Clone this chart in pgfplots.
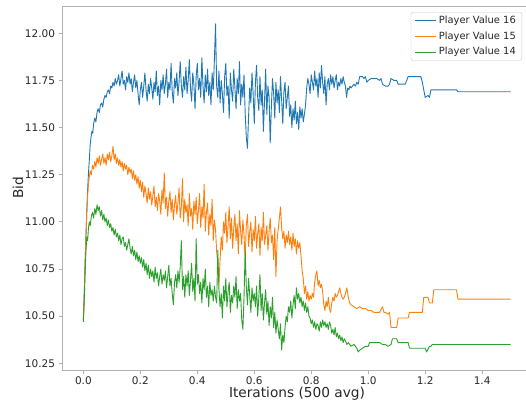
\documentclass[border=0pt]{standalone}
\usepackage{fontspec}
\setmainfont{DejaVu Sans}
\usepackage{pgfplots}
\pgfplotsset{compat=1.18}
\definecolor{tabblue}{RGB}{31,119,180}
\definecolor{taborange}{RGB}{255,127,14}
\definecolor{tabgreen}{RGB}{44,160,44}
\definecolor{spine}{RGB}{176,176,176}
\definecolor{txt}{RGB}{38,38,38}

\begin{document}
\begin{tikzpicture}
\useasboundingbox (-62pt,-32pt) rectangle (464pt,370pt);
\begin{axis}[
  at={(0pt,0pt)}, anchor=south west,
  scale only axis, width=470pt, height=364pt,
  xmin=-0.075, xmax=1.575, ymin=10.2145, ymax=12.1446,
  axis line style={spine, line width=0.8pt},
  tick style={spine, line width=0.8pt},
  tick align=outside, tick pos=left, major tick length=3.5pt,
  xtick={0,0.2,0.4,0.6,0.8,1.0,1.2,1.4},
  ytick={10.25,10.5,10.75,11,11.25,11.5,11.75,12},
  scaled x ticks=false, scaled y ticks=false,
  /pgf/number format/assume math mode=true,
  ticklabel style={font=\fontsize{10.5}{12}\selectfont, text=txt},
  xticklabel style={/pgf/number format/fixed, /pgf/number format/precision=1, /pgf/number format/fixed zerofill},
  yticklabel style={/pgf/number format/fixed, /pgf/number format/precision=2, /pgf/number format/fixed zerofill},
  xlabel={Iterations (500 avg)},
  xlabel style={font=\fontsize{13.7}{16}\selectfont, text=txt, at={(axis description cs:0.5,0)}, anchor=center, yshift=-24pt},
  ylabel={Bid},
  ylabel style={font=\fontsize{13.7}{16}\selectfont, text=txt, at={(axis description cs:-0.0936,0.5)}, anchor=center},
  legend style={at={(0.9787,0.9835)}, anchor=north east, draw=spine!70, rounded corners=2pt, fill=white,
    font=\fontsize{9.9}{11.5}\selectfont, text=txt, row sep=2.6pt, inner xsep=4pt, inner ysep=2pt},
  legend cell align=left,
  legend image code/.code={\draw[#1, line width=0.9pt] (0pt,0pt) -- (21pt,0pt);},
  every axis plot/.append style={line width=0.9pt, line join=round},
]
\addplot[tabblue] coordinates {
(0,10.48)(0.003,10.62)(0.006,10.78)(0.009,10.92)(0.012,11.05)(0.015,11.17)(0.018,11.26)(0.021,11.33)(0.024,11.41)(0.027,11.45)(0.030,11.48)(0.033,11.47)(0.036,11.52)(0.040,11.55)(0.044,11.53)(0.048,11.58)(0.052,11.60)(0.056,11.58)(0.060,11.62)(0.064,11.63)(0.068,11.61)(0.072,11.65)(0.076,11.67)(0.080,11.66)(0.084,11.69)(0.088,11.70)(0.092,11.68)(0.096,11.72)(0.100,11.71)(0.104,11.74)(0.108,11.72)(0.112,11.76)(0.116,11.73)(0.120,11.75)
(0.124,11.78)(0.128,11.72)(0.132,11.76)(0.136,11.80)(0.140,11.73)(0.144,11.75)(0.148,11.70)(0.152,11.77)(0.156,11.74)(0.160,11.79)
(0.164,11.73)(0.168,11.76)(0.172,11.69)(0.176,11.74)(0.180,11.78)(0.184,11.71)(0.188,11.75)(0.192,11.68)(0.196,11.62)(0.200,11.70)
(0.204,11.74)(0.208,11.66)(0.212,11.72)(0.216,11.79)(0.220,11.70)(0.224,11.64)(0.228,11.73)(0.232,11.68)(0.236,11.76)(0.240,11.71)
(0.244,11.65)(0.248,11.74)(0.252,11.69)(0.256,11.80)(0.260,11.67)(0.264,11.72)(0.268,11.62)(0.272,11.75)(0.276,11.70)(0.280,11.78)
(0.284,11.68)(0.288,11.73)(0.292,11.81)(0.296,11.66)(0.300,11.74)(0.304,11.70)(0.308,11.84)(0.312,11.69)(0.316,11.63)(0.320,11.76)
(0.324,11.71)(0.328,11.79)(0.332,11.67)(0.336,11.74)(0.340,11.85)(0.344,11.72)(0.348,11.66)(0.352,11.77)(0.356,11.70)(0.360,11.82)
(0.364,11.68)(0.368,11.75)(0.372,11.86)(0.376,11.71)(0.380,11.64)(0.384,11.79)(0.388,11.73)(0.392,11.60)(0.396,11.77)(0.400,11.84)
(0.404,11.70)(0.408,11.76)(0.412,11.66)(0.416,11.87)(0.420,11.72)(0.424,11.63)(0.428,11.78)(0.432,11.69)(0.436,11.81)(0.440,11.67)
(0.444,11.74)(0.448,11.62)(0.452,11.79)(0.456,11.70)(0.460,11.86)(0.464,12.05)(0.468,11.72)(0.472,11.66)(0.476,11.80)(0.480,11.63)
(0.484,11.75)(0.488,11.68)(0.492,11.58)(0.496,11.77)(0.500,11.84)(0.504,11.67)(0.508,11.72)(0.512,11.55)(0.516,11.79)(0.520,11.70)
(0.524,11.64)(0.528,11.81)(0.532,11.71)(0.536,11.60)(0.540,11.76)(0.544,11.68)(0.548,11.85)(0.552,11.62)(0.556,11.73)(0.560,11.66)
(0.564,11.78)(0.568,11.58)(0.572,11.45)(0.576,11.39)(0.580,11.56)(0.584,11.71)(0.588,11.63)(0.592,11.79)(0.596,11.68)(0.600,11.52)
(0.604,11.74)(0.608,11.83)(0.612,11.66)(0.616,11.59)(0.620,11.77)(0.624,11.62)(0.628,11.70)(0.632,11.48)(0.636,11.64)(0.640,11.81)
(0.644,11.57)(0.648,11.72)(0.652,11.66)(0.656,11.42)(0.660,11.61)(0.664,11.76)(0.668,11.68)(0.672,11.55)(0.676,11.74)(0.680,11.63)
(0.684,11.70)(0.688,11.58)(0.692,11.77)(0.696,11.65)(0.700,11.52)(0.704,11.69)(0.708,11.74)(0.712,11.60)(0.716,11.66)(0.720,11.72)
(0.724,11.56)(0.728,11.62)(0.732,11.50)(0.736,11.60)(0.740,11.54)(0.744,11.64)(0.748,11.52)(0.752,11.58)(0.756,11.49)(0.760,11.61)
(0.764,11.55)(0.768,11.60)(0.772,11.53)(0.776,11.57)(0.780,11.62)(0.784,11.71)(0.788,11.76)(0.792,11.73)(0.796,11.68)(0.800,11.78)
(0.804,11.74)(0.808,11.70)(0.812,11.80)(0.816,11.72)(0.820,11.76)(0.824,11.66)(0.828,11.79)(0.832,11.71)(0.836,11.83)(0.840,11.74)
(0.844,11.68)(0.848,11.77)(0.852,11.62)(0.856,11.73)(0.860,11.76)(0.864,11.70)(0.868,11.78)(0.872,11.73)(0.876,11.77)(0.880,11.71)
(0.884,11.75)(0.888,11.78)(0.892,11.70)(0.896,11.74)(0.900,11.72)(0.904,11.76)(0.908,11.73)(0.912,11.77)(0.916,11.74)(0.920,11.72)
(0.924,11.66)(0.928,11.71)(0.932,11.70)(0.936,11.72)(0.940,11.71)(0.950,11.73)(0.955,11.72)(0.960,11.74)(0.965,11.73)(0.970,11.77)
(0.980,11.77)(0.985,11.76)(0.990,11.77)(0.995,11.74)(1.000,11.75)(1.010,11.76)(1.020,11.76)(1.030,11.76)(1.040,11.75)(1.045,11.76)
(1.050,11.73)(1.060,11.72)(1.070,11.72)(1.075,11.73)(1.080,11.76)(1.090,11.75)(1.100,11.75)(1.105,11.73)(1.110,11.73)(1.120,11.73)
(1.130,11.73)(1.140,11.77)(1.150,11.77)(1.160,11.77)(1.170,11.77)(1.185,11.77)(1.190,11.74)(1.195,11.70)(1.200,11.66)(1.210,11.67)
(1.215,11.66)(1.220,11.70)(1.230,11.70)(1.250,11.70)(1.270,11.70)(1.290,11.70)(1.310,11.70)(1.315,11.69)(1.400,11.69)(1.500,11.69)
};
\addlegendentry{Player Value 16}
\addplot[taborange] coordinates {
(0,10.48)(0.003,10.60)(0.006,10.78)(0.009,10.92)(0.012,11.05)(0.015,11.14)(0.018,11.20)(0.021,11.24)(0.024,11.27)(0.028,11.25)(0.032,11.30)(0.036,11.28)(0.040,11.32)(0.044,11.29)(0.048,11.34)(0.052,11.31)(0.056,11.35)(0.060,11.30)(0.064,11.33)(0.068,11.36)(0.072,11.31)(0.076,11.34)(0.080,11.30)(0.084,11.36)(0.088,11.33)(0.092,11.37)(0.096,11.32)(0.100,11.35)(0.104,11.40)(0.108,11.33)(0.112,11.36)(0.116,11.31)(0.120,11.34)
(0.124,11.30)(0.128,11.33)(0.132,11.29)(0.136,11.32)(0.140,11.27)(0.144,11.31)(0.148,11.28)(0.152,11.30)(0.156,11.25)(0.160,11.29)
(0.164,11.26)(0.168,11.28)(0.172,11.23)(0.176,11.27)(0.180,11.22)(0.184,11.25)(0.188,11.20)(0.192,11.24)(0.196,11.18)(0.200,11.22)
(0.204,11.16)(0.208,11.21)(0.212,11.13)(0.216,11.19)(0.220,11.15)(0.224,11.10)(0.228,11.18)(0.232,11.12)(0.236,11.16)(0.240,11.09)
(0.244,11.14)(0.248,11.19)(0.252,11.08)(0.256,11.13)(0.260,11.06)(0.264,11.15)(0.268,11.11)(0.272,11.04)(0.276,11.17)(0.280,11.10)
(0.284,11.26)(0.288,11.07)(0.292,11.13)(0.296,11.03)(0.300,11.11)(0.304,11.16)(0.308,11.05)(0.312,11.12)(0.316,11.01)(0.320,11.09)
(0.324,11.14)(0.328,11.04)(0.332,11.10)(0.336,11.18)(0.340,11.02)(0.344,11.08)(0.348,11.23)(0.352,11.00)(0.356,11.12)(0.360,11.05)
(0.364,11.09)(0.368,10.98)(0.372,11.15)(0.376,11.03)(0.380,11.07)(0.384,10.96)(0.388,11.11)(0.392,11.04)(0.396,11.13)(0.400,10.99)
(0.404,11.06)(0.408,11.15)(0.412,10.97)(0.416,11.08)(0.420,11.02)(0.424,11.20)(0.428,10.95)(0.432,11.05)(0.436,11.10)(0.440,10.93)
(0.444,11.04)(0.448,10.98)(0.452,11.12)(0.456,10.90)(0.460,11.01)(0.464,10.96)(0.468,10.84)(0.472,10.78)(0.476,10.67)(0.480,10.80)
(0.484,10.92)(0.488,10.85)(0.492,11.00)(0.496,10.94)(0.500,11.05)(0.504,10.89)(0.508,10.98)(0.512,11.08)(0.516,10.91)(0.520,11.02)
(0.524,10.86)(0.528,10.97)(0.532,11.04)(0.536,10.90)(0.540,10.99)(0.544,10.83)(0.548,11.06)(0.552,10.95)(0.556,10.88)(0.560,11.01)
(0.564,10.93)(0.568,10.80)(0.572,10.98)(0.576,11.04)(0.580,10.87)(0.584,10.95)(0.588,11.00)(0.592,10.84)(0.596,10.96)(0.600,10.90)
(0.604,11.03)(0.608,10.86)(0.612,10.94)(0.616,10.99)(0.620,10.82)(0.624,10.97)(0.628,10.90)(0.632,11.05)(0.636,10.88)(0.640,10.93)
(0.644,10.98)(0.648,10.85)(0.652,10.95)(0.656,11.02)(0.660,10.89)(0.664,10.93)(0.668,10.80)(0.672,10.97)(0.676,10.71)(0.680,10.90)
(0.684,10.96)(0.688,11.02)(0.692,11.08)(0.696,10.97)(0.700,10.91)(0.704,10.95)(0.708,10.86)(0.712,10.93)(0.716,10.89)(0.720,10.95)
(0.724,10.88)(0.728,10.92)(0.732,10.85)(0.736,10.94)(0.740,10.87)(0.744,10.91)(0.748,10.83)(0.752,10.90)(0.756,10.86)(0.760,10.89)
(0.764,10.82)(0.768,10.74)(0.772,10.70)(0.776,10.62)(0.780,10.66)(0.784,10.59)(0.788,10.63)(0.792,10.58)(0.796,10.61)(0.800,10.59)
(0.804,10.62)(0.808,10.60)(0.812,10.68)(0.816,10.72)(0.820,10.74)(0.824,10.66)(0.828,10.69)(0.832,10.65)(0.836,10.67)(0.840,10.63)
(0.844,10.56)(0.848,10.53)(0.852,10.58)(0.856,10.55)(0.860,10.60)(0.864,10.54)(0.868,10.52)(0.872,10.57)(0.876,10.60)(0.880,10.58)
(0.884,10.62)(0.888,10.60)(0.892,10.61)(0.896,10.63)(0.900,10.65)(0.904,10.62)(0.908,10.60)(0.912,10.59)(0.916,10.60)(0.920,10.62)
(0.925,10.65)(0.930,10.60)(0.935,10.57)(0.940,10.56)(0.950,10.55)(0.960,10.54)(0.970,10.55)(0.980,10.54)(0.990,10.54)(1.000,10.53)
(1.010,10.53)(1.020,10.52)(1.030,10.52)(1.040,10.52)(1.050,10.55)(1.055,10.52)(1.060,10.52)(1.070,10.51)(1.075,10.52)(1.080,10.44)
(1.100,10.44)(1.105,10.49)(1.120,10.49)(1.140,10.49)(1.145,10.52)(1.190,10.52)(1.195,10.60)(1.210,10.60)(1.215,10.57)(1.225,10.57)
(1.230,10.64)(1.310,10.64)(1.315,10.59)(1.400,10.59)(1.500,10.59)
};
\addlegendentry{Player Value 15}
\addplot[tabgreen] coordinates {
(0,10.47)(0.003,10.58)(0.006,10.72)(0.009,10.84)(0.012,10.92)(0.015,10.90)(0.018,10.97)(0.021,11.00)(0.024,10.98)(0.028,11.03)(0.032,11.05)(0.036,11.02)(0.040,11.07)(0.044,11.04)(0.048,11.09)(0.052,11.06)(0.056,11.08)(0.060,11.03)(0.064,11.06)(0.068,11.01)(0.072,11.04)(0.076,11.00)(0.080,11.02)(0.084,10.98)(0.088,11.01)(0.092,10.97)(0.096,10.99)(0.100,10.95)(0.104,10.97)(0.108,10.93)(0.112,10.96)(0.116,10.92)(0.120,10.94)
(0.124,10.90)(0.128,10.93)(0.132,10.88)(0.136,10.91)(0.140,10.92)(0.144,10.87)(0.148,10.89)(0.152,10.85)(0.156,10.88)(0.160,10.91)
(0.164,10.86)(0.168,10.83)(0.172,10.87)(0.176,10.82)(0.180,10.85)(0.184,10.80)(0.188,10.84)(0.192,10.79)(0.196,10.82)(0.200,10.78)
(0.204,10.81)(0.208,10.76)(0.212,10.80)(0.216,10.74)(0.220,10.78)(0.224,10.72)(0.228,10.77)(0.232,10.70)(0.236,10.75)(0.240,10.71)
(0.244,10.74)(0.248,10.68)(0.252,10.76)(0.256,10.70)(0.260,10.73)(0.264,10.66)(0.268,10.71)(0.272,10.75)(0.276,10.67)(0.280,10.72)
(0.284,10.69)(0.288,10.74)(0.292,10.65)(0.296,10.71)(0.300,10.77)(0.304,10.66)(0.308,10.70)(0.312,10.62)(0.316,10.56)(0.320,10.68)
(0.324,10.72)(0.328,10.65)(0.332,10.74)(0.336,10.68)(0.340,10.76)(0.344,10.90)(0.348,10.64)(0.352,10.71)(0.356,10.60)(0.360,10.72)
(0.364,10.66)(0.368,10.74)(0.372,10.61)(0.376,10.69)(0.380,10.78)(0.384,10.63)(0.388,10.70)(0.392,10.58)(0.396,10.91)(0.400,10.67)
(0.404,10.72)(0.408,10.62)(0.412,10.68)(0.416,10.57)(0.420,10.70)(0.424,10.64)(0.428,10.75)(0.432,10.60)(0.436,10.66)(0.440,10.55)
(0.444,10.68)(0.448,10.61)(0.452,10.64)(0.456,10.58)(0.460,10.66)(0.464,10.60)(0.468,10.57)(0.472,10.85)(0.476,10.64)(0.480,10.55)
(0.484,10.62)(0.488,10.49)(0.492,10.66)(0.496,10.58)(0.500,10.70)(0.504,10.55)(0.508,10.63)(0.512,10.68)(0.516,10.52)(0.520,10.61)
(0.524,10.57)(0.528,10.66)(0.532,10.60)(0.536,10.71)(0.540,10.54)(0.544,10.64)(0.548,10.58)(0.552,10.62)(0.556,10.48)(0.560,10.43)
(0.564,10.60)(0.568,10.85)(0.572,10.66)(0.576,10.56)(0.580,10.70)(0.584,10.61)(0.588,10.52)(0.592,10.65)(0.596,10.58)(0.600,10.62)
(0.604,10.55)(0.608,10.66)(0.612,10.50)(0.616,10.60)(0.620,10.72)(0.624,10.53)(0.628,10.62)(0.632,10.48)(0.636,10.57)(0.640,10.64)
(0.644,10.51)(0.648,10.58)(0.652,10.45)(0.656,10.55)(0.660,10.49)(0.664,10.60)(0.668,10.44)(0.672,10.52)(0.676,10.41)(0.680,10.48)
(0.684,10.43)(0.688,10.38)(0.692,10.46)(0.696,10.32)(0.700,10.40)(0.704,10.36)(0.708,10.44)(0.712,10.50)(0.716,10.47)(0.720,10.55)
(0.724,10.52)(0.728,10.58)(0.732,10.49)(0.736,10.56)(0.740,10.61)(0.744,10.54)(0.748,10.65)(0.752,10.59)(0.756,10.62)(0.760,10.57)
(0.764,10.60)(0.768,10.55)(0.772,10.58)(0.776,10.53)(0.780,10.57)(0.784,10.52)(0.788,10.55)(0.792,10.50)(0.796,10.49)(0.800,10.46)
(0.804,10.48)(0.808,10.44)(0.812,10.47)(0.816,10.43)(0.820,10.46)(0.824,10.45)(0.828,10.42)(0.832,10.47)(0.836,10.44)(0.840,10.48)
(0.844,10.45)(0.848,10.47)(0.852,10.44)(0.856,10.46)(0.860,10.43)(0.864,10.47)(0.868,10.45)(0.872,10.41)(0.876,10.43)(0.880,10.40)
(0.884,10.44)(0.888,10.39)(0.892,10.41)(0.896,10.38)(0.900,10.40)(0.904,10.37)(0.908,10.39)(0.912,10.36)(0.916,10.38)(0.920,10.37)
(0.925,10.35)(0.930,10.36)(0.940,10.34)(0.950,10.35)(0.960,10.33)(0.965,10.31)(0.970,10.32)(0.980,10.33)(0.990,10.34)(1.000,10.34)
(1.005,10.36)(1.020,10.36)(1.040,10.36)(1.050,10.35)(1.060,10.35)(1.070,10.34)(1.080,10.35)(1.085,10.38)(1.100,10.38)(1.105,10.36)
(1.120,10.36)(1.140,10.36)(1.145,10.33)(1.200,10.33)(1.205,10.31)(1.215,10.34)(1.220,10.34)(1.225,10.35)(1.400,10.35)(1.500,10.35)
};
\addlegendentry{Player Value 14}
\node[font=\fontsize{6.5}{7}\selectfont, text=txt, anchor=north east, yshift=-15pt, xshift=-6pt] at (rel axis cs:1,0) {1e6};
\end{axis}
\end{tikzpicture}
\end{document}
